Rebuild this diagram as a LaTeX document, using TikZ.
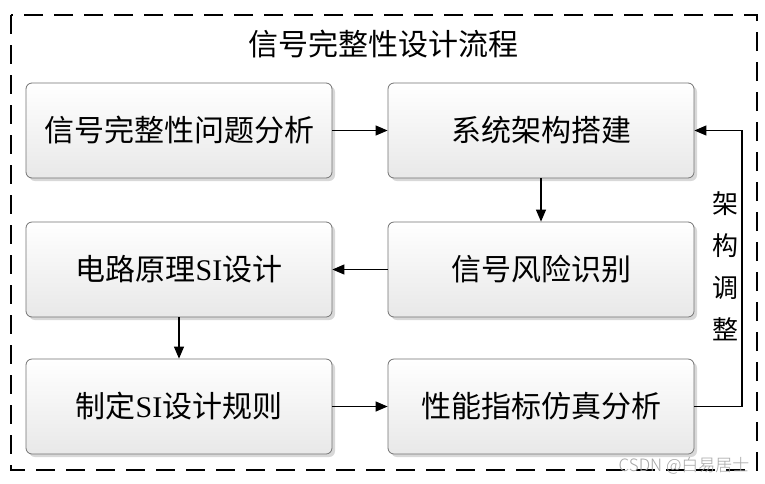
\documentclass[tikz,border=0pt]{standalone}
\usepackage{fontspec}
\setmainfont{Liberation Serif}
\newfontfamily\cjk{Noto Sans CJK SC}
\newfontfamily\cjklight{Noto Sans CJK SC Light}
\usetikzlibrary{arrows.meta,shadows}
\begin{document}
\begin{tikzpicture}[x=1pt,y=-1pt,
  stepbox/.style={draw=black!55, line width=0.8pt, rounded corners=6pt,
    top color=white, bottom color=black!9, minimum width=306pt, minimum height=95pt,
    inner sep=0pt, font=\fontsize{30}{32}\selectfont,
    drop shadow={shadow xshift=3pt, shadow yshift=-3pt, fill=black!25, opacity=0.6}},
  conn/.style={line width=1.2pt, -{Triangle[length=12pt,width=10pt]}},
  frame/.style={line width=2.6pt, dash pattern=on 19pt off 11pt},
  every node/.append style={text=black}
]
\useasboundingbox (0,0) rectangle (765,483);
\fill[white] (0,0) rectangle (765,483);
\draw[frame] (11,15) rectangle (757,470);
\node[font=\cjk\fontsize{30}{32}\selectfont] (title) at (383,44) {信号完整性设计流程};

\node[stepbox] (a) at (179,130.5) {\cjk 信号完整性问题分析};
\node[stepbox] (b) at (541,130.5) {\cjk 系统架构搭建};
\node[stepbox] (c) at (541,269.5) {\cjk 信号风险识别};
\node[stepbox] (d) at (179,269.5) {\cjk 电路原理\textrm{SI}设计};
\node[stepbox] (e) at (179,406.5) {\cjk 制定\textrm{SI}设计规则};
\node[stepbox] (f) at (541,406.5) {\cjk 性能指标仿真分析};

\draw[conn] (a) -- (b);
\draw[conn] (b) -- (c);
\draw[conn] (c) -- (d);
\draw[conn] (d) -- (e);
\draw[conn] (e) -- (f);
\coordinate (fb1) at (742,406.5);
\coordinate (fb2) at (742,130.5);
\draw[conn] (f.east) -- (fb1) -- (fb2) -- (b.east);
\node[font=\cjk\fontsize{26}{42}\selectfont, align=center] (lbl) at (725,266) {架\\构\\调\\整};
\node[font=\cjklight\fontsize{17}{18}\selectfont, text=black!35, anchor=base east] (wm) at (753,471) {CSDN @白易居士};
\end{tikzpicture}
\end{document}
